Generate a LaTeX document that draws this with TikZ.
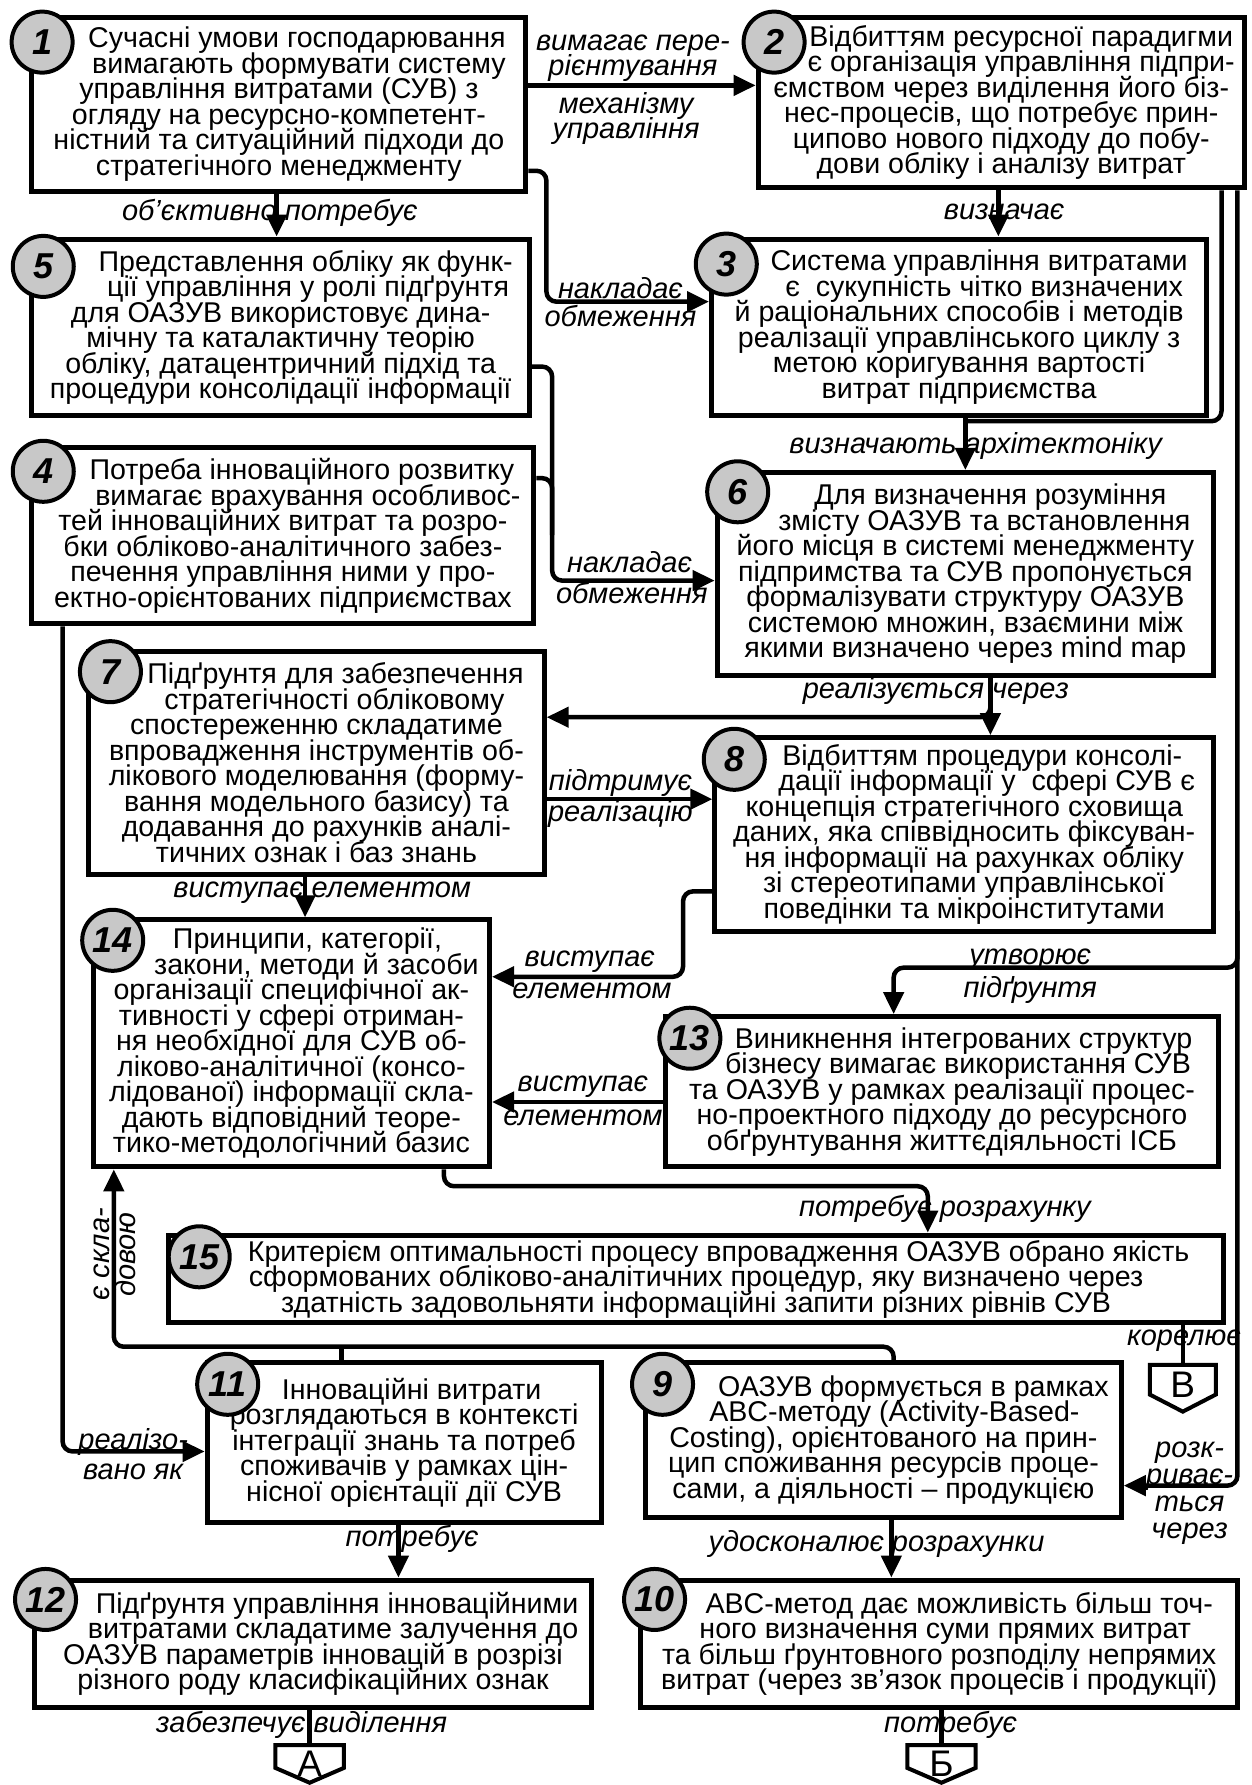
\documentclass[tikz,border=0pt]{standalone}
\usepackage{fontspec}
\setmainfont{Liberation Sans}
\usetikzlibrary{fit,arrows.meta}
\definecolor{numgray}{RGB}{200,200,200}
% lines may be set closer than their glyph heights
\setlength{\lineskiplimit}{-100pt}
\setlength{\lineskip}{0pt}
\begin{document}
\begin{tikzpicture}[x=1.1383pt,y=-1.1383pt,
  box/.style={draw,line width=5pt,fill=white,inner sep=0pt,rectangle},
  txt/.style={align=center,inner sep=0pt,font=\fontsize{28.6}{25.5}\selectfont},
  num/.style={circle,draw,line width=4pt,fill=numgray,minimum size=61pt,inner sep=0pt,
    font=\fontsize{36}{36}\selectfont\bfseries\itshape},
  lbl/.style={inner sep=0pt,align=center,font=\fontsize{29}{25.5}\selectfont\itshape},
  link/.style={line width=4.5pt,rounded corners=10pt},
  arr/.style={link,-{Triangle[length=22pt,width=20pt]}},
  penta/.style={draw,line width=4pt,fill=white,line join=miter},
  letter/.style={inner sep=0pt,font=\fontsize{37}{37}\selectfont},
]
\useasboundingbox[fill=white] (0,0) rectangle (1099,1568);

% ---------- boxes ----------
\node[box,fit={(28,15)(462,168)}]    (b1) {};
\node[box,fit={(666,15)(1093,165)}]  (b2) {};
\node[box,fit={(625,210)(1060,365)}] (b3) {};
\node[box,fit={(28,210)(465,365)}]   (b5) {};
\node[box,fit={(28,393)(469,548)}]   (b4) {};
\node[box,fit={(630,415)(1066,593)}] (b6) {};
\node[box,fit={(78,572)(478,768)}]   (b7) {};
\node[box,fit={(628,648)(1066,818)}] (b8) {};
\node[box,fit={(82,808)(430,1025)}]  (b14) {};
\node[box,fit={(585,893)(1070,1025)}] (b13) {};
\node[box,fit={(148,1085)(1075,1162)}] (b15) {};
\node[box,fit={(182,1197)(528,1337)}] (b11) {};
\node[box,fit={(567,1197)(985,1333)}] (b9) {};
\node[box,fit={(30,1388)(520,1500)}]  (b12) {};
\node[box,fit={(563,1388)(1087,1500)}] (b10) {};

% ---------- box texts ----------
\node[txt] (t1) at (b1.center) {\hspace*{36pt}Сучасні умови господарювання\\\hspace*{40pt}вимагають формувати систему\\управління витратами (СУВ) з\\огляду на ресурсно-компетент-\\ністний та ситуаційний підходи до\\стратегічного менеджменту};
\node[txt] (t2) at (b2.center) {\hspace*{40pt}Відбиттям ресурсної парадигми\\\hspace*{40pt}є організація управління підпри-\\ємством через виділення його біз-\\нес-процесів, що потребує прин-\\ципово нового підходу до побу-\\дови обліку і аналізу витрат};
\node[txt] (t3) at (b3.center) {\hspace*{40pt}Система управління витратами\\\hspace*{50pt}є\ \ сукупність чітко визначених\\й раціональних способів і методів\\реалізації управлінського циклу з\\метою коригування вартості\\витрат підприємства};
\node[txt] (t5) at (b5.center) {\hspace*{50pt}Представлення обліку як функ-\\\hspace*{55pt}ції управління у ролі підґрунтя\\для ОАЗУВ використовує дина-\\мічну та каталактичну теорію\\обліку, датацентричний підхід та\\процедури консолідації інформації};
\node[txt] (t4) at (b4.center) {\hspace*{38pt}Потреба інноваційного розвитку\\\hspace*{50pt}вимагає врахування особливос-\\тей інноваційних витрат та розро-\\бки обліково-аналітичного забез-\\печення управління ними у про-\\ектно-орієнтованих підприємствах};
\node[txt] (t6) at (b6.center) {\hspace*{50pt}Для визначення розуміння\\\hspace*{38pt}змісту ОАЗУВ та встановлення\\його місця в системі менеджменту\\підпримства та СУВ пропонується\\формалізувати структуру ОАЗУВ\\системою множин, взаємини між\\якими визначено через mind map};
\node[txt] (t7) at (b7.center) {\hspace*{38pt}Підґрунтя для забезпечення\\\hspace*{36pt}стратегічності обліковому\\спостереженню складатиме\\впровадження інструментів об-\\лікового моделювання (форму-\\вання модельного базису) та\\додавання до рахунків аналі-\\тичних ознак і баз знань};
\node[txt] (t8) at (b8.center) {\hspace*{36pt}Відбиттям процедури консолі-\\\hspace*{45pt}дації інформації у\ \ сфері СУВ є\\концепція стратегічного сховища\\даних, яка співвідносить фіксуван-\\ня інформації на рахунках обліку\\зі стереотипами управлінської\\поведінки та мікроінститутами};
\node[txt] (t14) at (b14.center) {\hspace*{32pt}Принципи, категорії,\\\hspace*{50pt}закони, методи й засоби\\організації специфічної ак-\\тивності у сфері отриман-\\ня необхідної для СУВ об-\\ліково-аналітичної (консо-\\лідованої) інформації скла-\\дають відповідний теоре-\\тико-методологічний базис};
\node[txt] (t13) at (b13.center) {\hspace*{43pt}Виникнення інтегрованих структур\\\hspace*{32pt}бізнесу вимагає використання СУВ\\та ОАЗУВ у рамках реалізації процес-\\но-проектного підходу до ресурсного\\обґрунтування життєдіяльності ІСБ};
\node[txt] (t15) at (b15.center) {\hspace*{45pt}Критерієм оптимальності процесу впровадження ОАЗУВ обрано якість\\сформованих обліково-аналітичних процедур, яку визначено через\\здатність задовольняти інформаційні запити різних рівнів СУВ};
\node[txt] (t11) at (b11.center) {\hspace*{15pt}Інноваційні витрати\\розглядаються в контексті\\інтеграції знань та потреб\\споживачів у рамках цін-\\нісної орієнтації дії СУВ};
\node[txt] (t9) at (b9.center) {\hspace*{60pt}ОАЗУВ формується в рамках\\\hspace*{22pt}ABC-методу (Activity-Based-\\Costing), орієнтованого на прин-\\цип споживання ресурсів проце-\\сами, а діяльності – продукцією};
\node[txt] (t12) at (b12.center) {\hspace*{48pt}Підґрунтя управління інноваційними\\\hspace*{40pt}витратами складатиме залучення до\\ОАЗУВ параметрів інновацій в розрізі\\різного роду класифікаційних ознак};
\node[txt] (t10) at (b10.center) {\hspace*{40pt}ABC-метод дає можливість більш точ-\\\hspace*{12pt}ного визначення суми прямих витрат\\та більш ґрунтовного розподілу непрямих\\витрат (через зв'язок процесів і продукції)};

% ---------- off-page connectors ----------
\draw[penta] (242,1533) -- (302,1533) -- (302,1553) -- (272,1566) -- (242,1553) -- cycle;
\node[letter] (pA) at (272,1549) {А};
\coordinate (pAtop) at (272,1533);
\draw[penta] (797,1533) -- (857,1533) -- (857,1553) -- (827,1566) -- (797,1553) -- cycle;
\node[letter] (pB) at (827,1549) {Б};
\coordinate (pBtop) at (827,1533);
\draw[penta] (1010,1199) -- (1068,1199) -- (1068,1225) -- (1039,1240) -- (1010,1225) -- cycle;
\node[letter] (pV) at (1039,1216) {В};
\coordinate (pVtop) at (1039,1199);

% ---------- connector labels ----------
\node[lbl] (l12a) at (556,51) {вимагає пере-\\рієнтування};
\node[lbl] (l12b) at (550,104) {механізму\\управління};
\node[lbl] (l15) at (237,187) {об'єктивно потребує};
\node[lbl] (l23) at (882,186) {визначає};
\node[lbl] (l13a) at (545,253) {накладає};
\node[lbl] (l13b) at (545,278) {обмеження};
\node[lbl] (l36) at (857,392) {визначають архітектоніку};
\node[lbl] (l56a) at (553,494) {накладає};
\node[lbl] (l56b) at (555,521) {обмеження};
\node[lbl] (l68) at (822,607) {реалізується через};
\node[lbl] (l78a) at (545,688) {підтримує};
\node[lbl] (l78b) at (545,715) {реалізацію};
\node[lbl] (l714) at (283,784) {виступає елементом};
\node[lbl] (l814a) at (518,845) {виступає};
\node[lbl] (l814b) at (520,870) {елементом};
\node[lbl] (l213a) at (905,843) {утворює};
\node[lbl] (l213b) at (905,870) {підґрунтя};
\node[lbl] (l1314a) at (512,955) {виступає};
\node[lbl] (l1314b) at (512,982) {елементом};
\node[lbl] (l1415) at (830,1062) {потребує розрахунку};
\node[lbl] (l15V) at (1040,1178) {корелює};
\node[lbl,rotate=90] (lsk) at (101,1102) {є скла-\\довою};
\node[lbl] (l411a) at (117,1267) {реалізо-};
\node[lbl] (l411b) at (117,1293) {вано як};
\node[lbl] (l1112) at (362,1352) {потребує};
\node[lbl] (l12A) at (265,1515) {забезпечує виділення};
\node[lbl] (l910) at (770,1356) {удосконалює розрахунки};
\node[lbl,font=\fontsize{29}{27}\selectfont\itshape] (l29) at (1045,1312) {розк-\\риває-\\ться\\через};
\node[lbl] (l10B) at (835,1515) {потребує};

% ---------- connectors ----------
\draw[arr] (b1.east |- 0,75) -- (b2.west |- 0,75);
\draw[arr] (b1.south -| 243,0) -- (b5.north -| 243,0);
\draw[arr] (b1.east |- 0,150) -- (480,150) -- (480,265) -- (b3.west |- 0,265);
\draw[arr] (b2.south -| 877,0) -- (b3.north -| 877,0);
\draw[link] (b2.south -| 1073,0) -- (1073,370) -- (848,370);
\draw[arr] (b3.south -| 848,0) -- (b6.north -| 848,0);
\draw[arr] (b5.east |- 0,322) -- (485,322) -- (485,510) -- (b6.west |- 0,510);
\draw[link] (b4.east |- 0,420) -- (485,420) -- (485,470);
\draw[arr] (b6.south -| 870,0) -- (b8.north -| 870,0);
\draw[arr] (b6.south -| 870,0) -- (870,630) -- (b7.east |- 0,630);
\draw[arr] (b7.east |- 0,702) -- (b8.west |- 0,702);
\draw[arr] (b7.south -| 268,0) -- (b14.north -| 268,0);
\draw[arr] (b8.west |- 0,783) -- (600,783) -- (600,858) -- (b14.east |- 0,858);
\draw[arr] (b2.south -| 1087,0) -- (1087,1305) -- (b9.east |- 0,1305);
\draw[arr] (1087,800) -- (1087,850) -- (785,850) -- (b13.north -| 785,0);
\draw[arr] (b13.west |- 0,968) -- (b14.east |- 0,968);
\draw[arr] (b14.south -| 390,0) -- (390,1042) -- (815,1042) -- (b15.north -| 815,0);
\draw[link] (b15.south -| 1039,0) -- (pVtop);
\draw[arr] (b9.north -| 785,0) -- (785,1183) -- (100,1183) -- (b14.south -| 100,0);
\draw[link] (b11.north -| 300,0) -- (300,1183);
\draw[arr] (b4.south -| 55,0) -- (55,1275) -- (b11.west |- 0,1275);
\draw[arr] (b11.south -| 350,0) -- (b12.north -| 350,0);
\draw[link] (b12.south -| 272,0) -- (pAtop);
\draw[arr] (b9.south -| 783,0) -- (b10.north -| 783,0);
\draw[link] (b10.south -| 827,0) -- (pBtop);

% ---------- numbered circles ----------
\node[num] (c1)  at (37,37)    {1};
\node[num] (c2)  at (680,37)   {2};
\node[num] (c3)  at (638,232)  {3};
\node[num] (c4)  at (38,414)   {4};
\node[num] (c5)  at (38,234)   {5};
\node[num] (c6)  at (648,432)  {6};
\node[num] (c7)  at (97,590)   {7};
\node[num] (c8)  at (645,667)  {8};
\node[num] (c9)  at (582,1216) {9};
\node[num] (c10) at (575,1405) {10};
\node[num] (c11) at (200,1216) {11};
\node[num] (c12) at (40,1405)  {12};
\node[num] (c13) at (606,912)  {13};
\node[num] (c14) at (99,826)   {14};
\node[num] (c15) at (175,1104) {15};
\end{tikzpicture}
\end{document}
